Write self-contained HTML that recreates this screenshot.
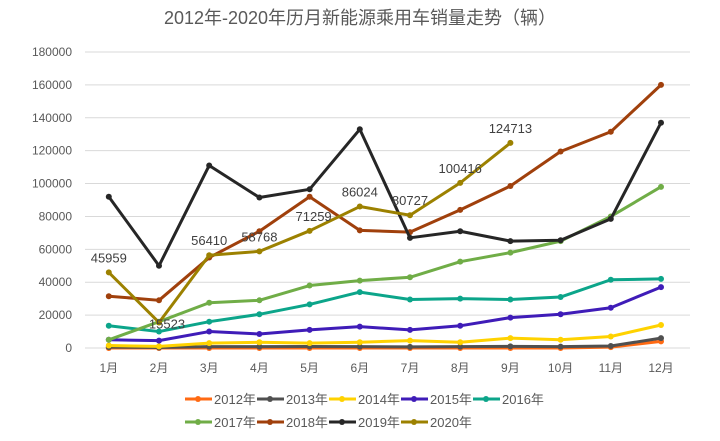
<!DOCTYPE html><html><head><meta charset="utf-8"><style>body{margin:0;background:#fff}svg{display:block;font-family:"Liberation Sans","Noto Sans CJK SC",sans-serif}</style></head><body>
<svg width="720" height="441" id="s"></svg>
<script>
const s=document.getElementById('s');let h='';
h+='<text x="360" y="24" text-anchor="middle" font-size="18" fill="#595959">2012年-2020年历月新能源乘用车销量走势（辆）</text>';
const Y=v=>348-v*296/180000, X=i=>108.8+i*50.2;
for(let k=0;k<=9;k++){const y=Y(k*20000);h+=`<line x1="85" x2="690" y1="${y}" y2="${y}" stroke="#d9d9d9"/><text x="72" y="${y+4}" text-anchor="end" font-size="12" fill="#595959">${k*20000}</text>`;}
for(let i=0;i<12;i++)h+=`<text x="${X(i)}" y="372" text-anchor="middle" font-size="12" fill="#595959">${i+1}月</text>`;
const S=[
['2012年','#ff6a13',[0,0,0,0,0,0,0,0,0,0,500,4000]],
['2013年','#505050',[500,300,800,800,900,800,700,800,1000,800,1200,6000]],
['2014年','#ffd200',[1500,1000,3000,3500,3000,3500,4500,3500,6000,5000,7000,14000]],
['2015年','#3f1cb8',[5000,4500,10000,8500,11000,13000,11000,13500,18500,20500,24500,37000]],
['2016年','#0ca58a',[13500,10000,16000,20500,26500,34000,29500,30000,29500,31000,41500,42000]],
['2017年','#70ad47',[5000,16000,27500,29000,38000,41000,43000,52500,58000,65000,80000,98000]],
['2018年','#a0400c',[31500,29000,55000,71000,92000,71500,70500,84000,98500,119500,131500,160000]],
['2019年','#262626',[92000,50000,111000,91500,96500,133000,67000,71000,65000,65500,78500,137000]],
['2020年','#9c8100',[45959,15523,56410,58768,71259,86024,80727,100416,124713]]];
S.forEach(([n,c,d])=>{h+=`<polyline fill="none" stroke="${c}" stroke-width="3" stroke-linejoin="round" points="${d.map((v,i)=>X(i)+','+Y(v)).join(' ')}"/>`;d.forEach((v,i)=>h+=`<circle cx="${X(i)}" cy="${Y(v)}" r="3" fill="${c}"/>`);});
S[8][2].forEach((v,i)=>h+=`<text x="${X(i)+(i==1?8:i==4?4:0)}" y="${Y(v)-(i==1?-6:10)}" text-anchor="middle" font-size="13" fill="#404040">${v}</text>`);
S.forEach(([n,c],k)=>{const x=k<5?185+k*72:185+(k-5)*72,y=k<5?399:422;h+=`<line x1="${x}" x2="${x+27}" y1="${y}" y2="${y}" stroke="${c}" stroke-width="3"/><circle cx="${x+13}" cy="${y}" r="3" fill="${c}"/><text x="${x+29}" y="${y+5}" font-size="13" fill="#595959">${n}</text>`;});
s.innerHTML=h;
</script></body></html>
